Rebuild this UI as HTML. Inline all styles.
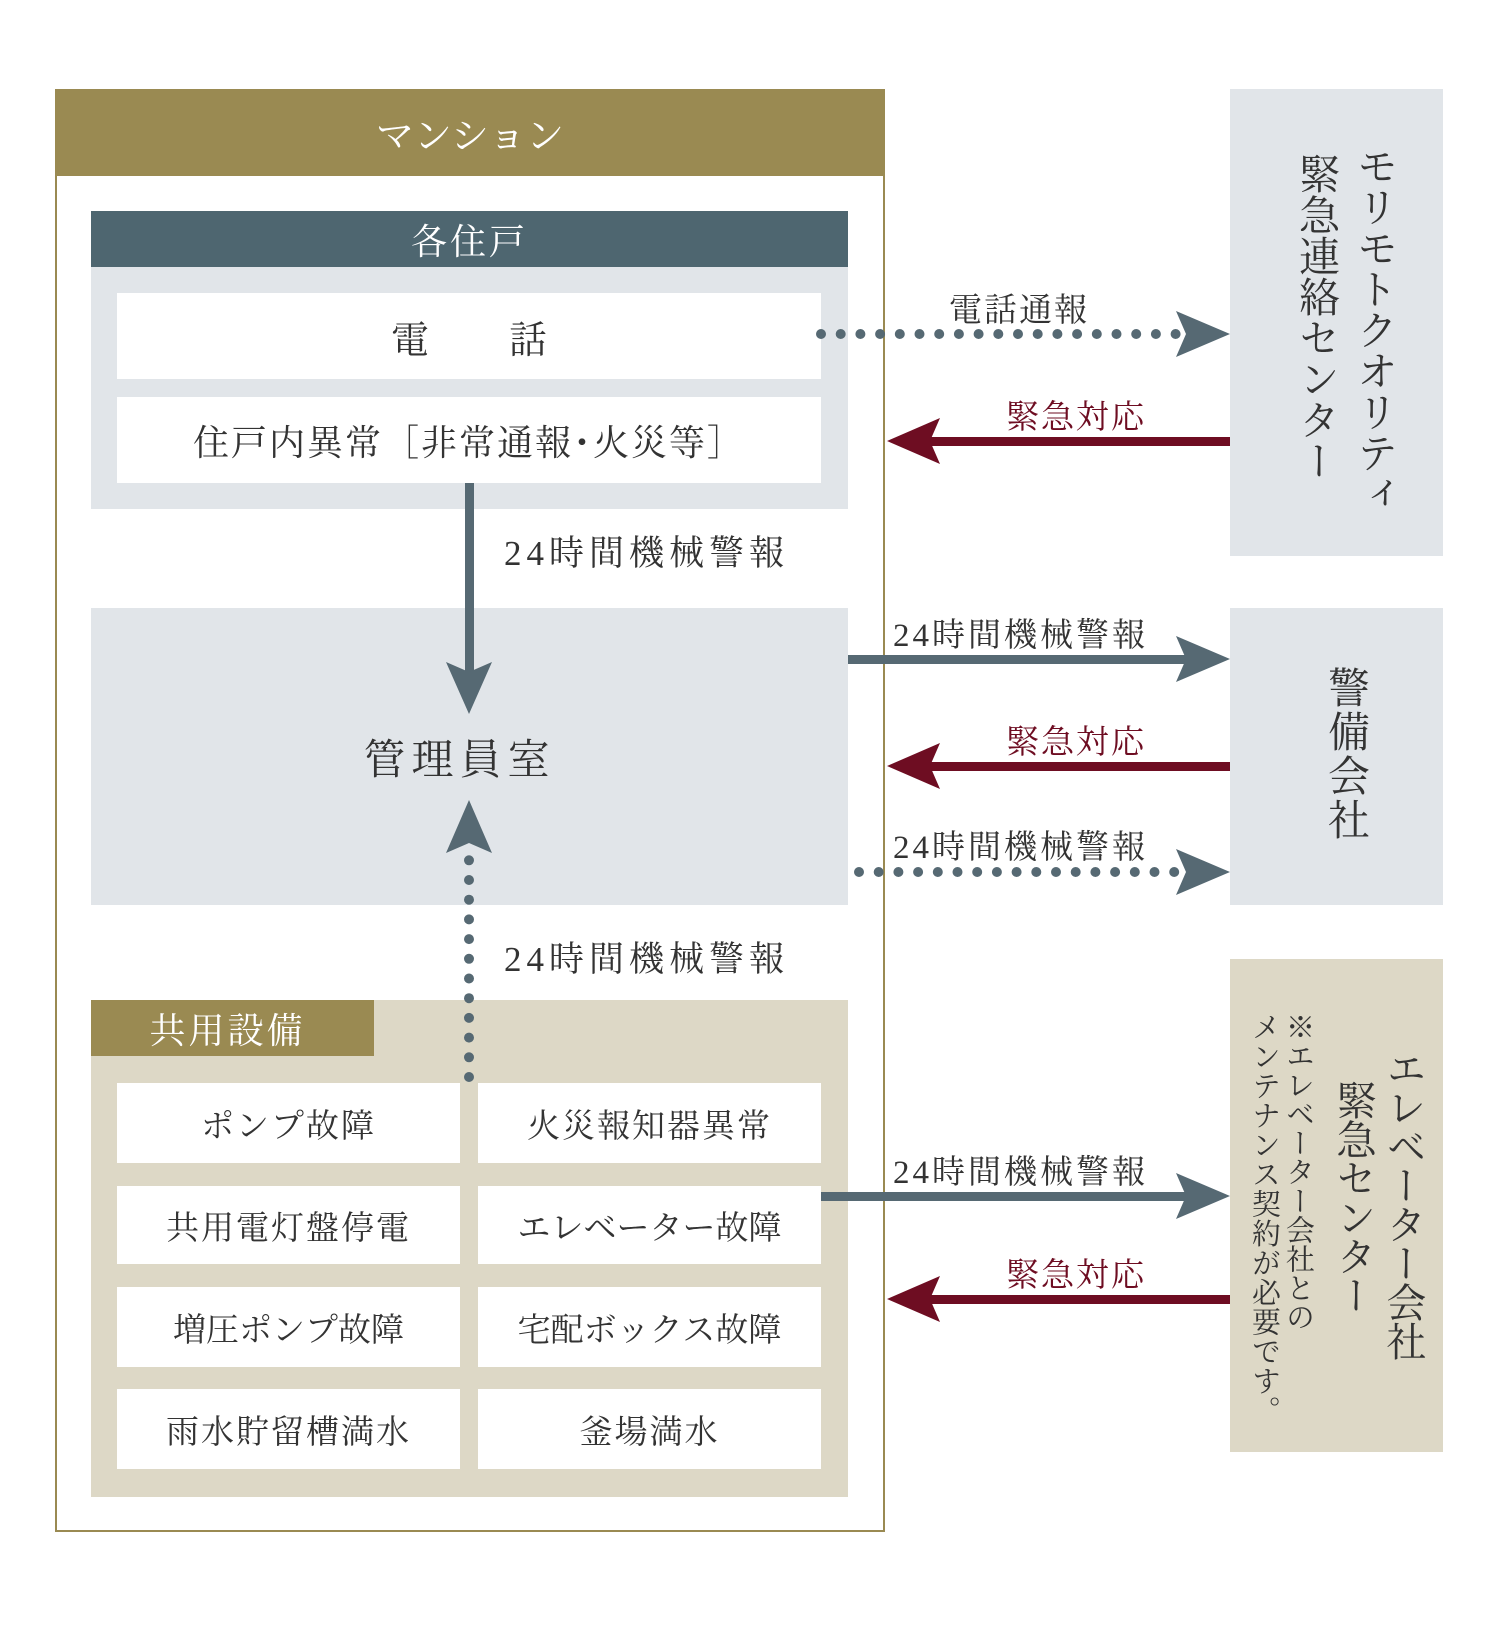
<!DOCTYPE html>
<html><head><meta charset="utf-8"><style>
body{margin:0;width:1500px;height:1625px;background:#fff;position:relative;overflow:hidden;font-family:"Liberation Serif","Noto Serif CJK JP","Noto Serif CJK SC",serif;color:#333}
.a{position:absolute}
.c{display:flex;align-items:center;justify-content:center}
.w{background:#fff}
.t{font-size:33px;color:#333;letter-spacing:2px;white-space:nowrap}
.v{writing-mode:vertical-rl;white-space:nowrap}
</style></head><body>
<div class="a" style="left:55px;top:89px;width:830px;height:1443px;border:2px solid #9a8a52;box-sizing:border-box"></div>
<div class="a c" style="left:55px;top:89px;width:830px;height:87px;background:#9a8a52;color:#fff;font-size:38px;letter-spacing:0px">マンション</div>

<div class="a c" style="left:91px;top:211px;width:757px;height:56px;background:#4e6670;color:#fff;font-size:36px;letter-spacing:3px">各住戸</div>
<div class="a" style="left:91px;top:267px;width:757px;height:242px;background:#e1e5e9"></div>
<div class="a c w" style="left:117px;top:293px;width:704px;height:86px;font-size:38px"><span>電</span><span style="display:inline-block;width:80px"></span><span>話</span></div>
<div class="a c w" style="left:117px;top:397px;width:704px;height:86px;font-size:36px;letter-spacing:2px">住戸内異常［非常通報･火災等］</div>

<div class="a c" style="left:91px;top:608px;width:757px;height:297px;background:#e1e5e9;font-size:42px;letter-spacing:6px;padding-right:20px;box-sizing:border-box">管理員室</div>

<div class="a" style="left:91px;top:1000px;width:757px;height:497px;background:#ddd8c6"></div>
<div class="a c" style="left:91px;top:1000px;width:283px;height:56px;background:#9a8a52;color:#fff;font-size:36px;letter-spacing:3px;padding-right:10px;box-sizing:border-box">共用設備</div>
<div class="a c w t" style="left:117px;top:1083px;width:343px;height:80px">ポンプ故障</div>
<div class="a c w t" style="left:478px;top:1083px;width:343px;height:80px">火災報知器異常</div>
<div class="a c w t" style="left:117px;top:1186px;width:343px;height:78px">共用電灯盤停電</div>
<div class="a c w t" style="left:478px;top:1186px;width:343px;height:78px;letter-spacing:0">エレベーター故障</div>
<div class="a c w t" style="left:117px;top:1287px;width:343px;height:80px;letter-spacing:0">増圧ポンプ故障</div>
<div class="a c w t" style="left:478px;top:1287px;width:343px;height:80px;letter-spacing:0">宅配ボックス故障</div>
<div class="a c w t" style="left:117px;top:1389px;width:343px;height:80px">雨水貯留槽満水</div>
<div class="a c w t" style="left:478px;top:1389px;width:343px;height:80px">釜場満水</div>

<div class="a" style="left:1230px;top:89px;width:213px;height:467px;background:#e1e5e9"></div>
<div class="a v" style="left:1345px;top:145px;font-size:41px;letter-spacing:0px">モリモトクオリティ</div>
<div class="a v" style="left:1287px;top:153px;font-size:41px;letter-spacing:0px">緊急連絡センター</div>
<div class="a" style="left:1230px;top:608px;width:213px;height:297px;background:#e1e5e9"></div>
<div class="a v" style="left:1315px;top:666px;font-size:42px;letter-spacing:2px">警備会社</div>
<div class="a" style="left:1230px;top:959px;width:213px;height:493px;background:#ddd8c6"></div>
<div class="a v" style="left:1375px;top:1048px;font-size:40px;letter-spacing:-1px">エレベーター会社</div>
<div class="a v" style="left:1325px;top:1080px;font-size:40px;letter-spacing:-1px">緊急センター</div>
<div class="a v" style="left:1278px;top:1012px;font-size:29px;line-height:40px">※エレベーター会社との</div>
<div class="a v" style="left:1244px;top:1012px;font-size:29px;line-height:40px;letter-spacing:0.5px">メンテナンス契約が必要です。</div>

<svg class="a" style="left:0;top:0" width="1500" height="1625">
<g fill="#566973" stroke="none">
<rect x="465" y="483" width="9" height="190"/><polygon points="446,662 469,714 492,662 469,672"/>
<polygon points="446,853 469,800 492,853 469,843"/>
<rect x="848" y="655" width="340" height="9"/><polygon points="1176,636 1230,659 1176,682 1186,659"/>
<rect x="821" y="1192" width="367" height="9"/><polygon points="1176,1173 1230,1196 1176,1219 1186,1196"/>
<polygon points="1176,311 1230,334 1176,357 1186,334"/>
<polygon points="1176,849 1230,872 1176,895 1186,872"/>
</g>
<g stroke="#566973" stroke-width="10" stroke-linecap="round" stroke-dasharray="0 19.7" fill="none">
<line x1="821" y1="334" x2="1178" y2="334"/>
<line x1="859" y1="872" x2="1178" y2="872"/>
<line x1="469" y1="1077" x2="469" y2="852"/>
</g>
<g fill="#6e0d22">
<rect x="930" y="437" width="300" height="9"/><polygon points="940,418 887,441 940,464 930,441"/>
<rect x="930" y="762" width="300" height="9"/><polygon points="940,743 887,766 940,789 930,766"/>
<rect x="930" y="1295" width="300" height="9"/><polygon points="940,1276 887,1299 940,1322 930,1299"/>
</g>
</svg>

<div class="a t" style="left:949px;top:284px;font-size:33px">電話通報</div>
<div class="a t" style="left:1006px;top:391px;color:#6e0d22">緊急対応</div>
<div class="a t" style="left:893px;top:609px;letter-spacing:3px">24時間機械警報</div>
<div class="a t" style="left:1006px;top:716px;color:#6e0d22">緊急対応</div>
<div class="a t" style="left:893px;top:821px;letter-spacing:3px">24時間機械警報</div>
<div class="a t" style="left:893px;top:1146px;letter-spacing:3px">24時間機械警報</div>
<div class="a t" style="left:1006px;top:1249px;color:#6e0d22">緊急対応</div>
<div class="a t" style="left:504px;top:526px;font-size:35px;letter-spacing:5px">24時間機械警報</div>
<div class="a t" style="left:504px;top:932px;font-size:35px;letter-spacing:5px">24時間機械警報</div>
</body></html>
